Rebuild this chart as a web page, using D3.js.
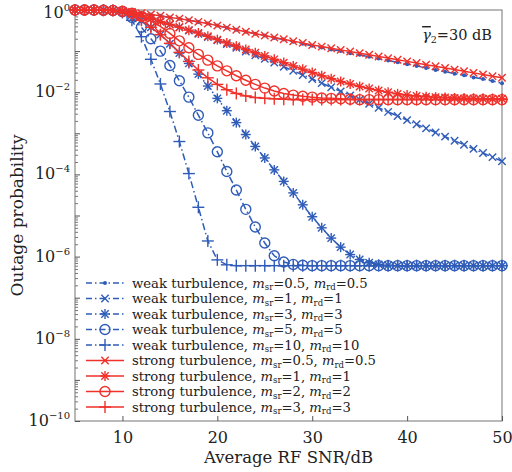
<!DOCTYPE html>
<html>
<head>
<meta charset="utf-8">
<script src="https://cdn.jsdelivr.net/npm/d3@7"></script>
<style>
  body { margin: 0; background: #fff; }
  svg { display: block; font-family: "DejaVu Serif", serif; }
</style>
</head>
<body>
<div id="chart"></div>
<script>
// average RF SNR (dB), one marker per dB
const snr = [5, 6, 7, 8, 9, 10, 11, 12, 13, 14, 15, 16, 17, 18, 19, 20, 21, 22, 23, 24, 25, 26, 27,
  28, 29, 30, 31, 32, 33, 34, 35, 36, 37, 38, 39, 40, 41, 42, 43, 44, 45, 46, 47, 48, 49, 50];

// outage probability, stored as log10(P)
const weakM05 = [0, 0, 0, -0.005, -0.01, -0.02, -0.05, -0.08, -0.11, -0.14, -0.18, -0.21, -0.25, -0.29,
  -0.33, -0.38, -0.43, -0.48, -0.53, -0.58, -0.62, -0.68, -0.72, -0.77, -0.82, -0.87, -0.91, -0.96, -1.0,
  -1.05, -1.09, -1.14, -1.18, -1.23, -1.27, -1.32, -1.36, -1.41, -1.46, -1.5, -1.55, -1.59, -1.64, -1.68,
  -1.73, -1.78];
const weakM1 = [0, 0, 0, -0.005, -0.01, -0.03, -0.08, -0.14, -0.21, -0.28, -0.35, -0.42, -0.5, -0.58,
  -0.66, -0.74, -0.83, -0.92, -1.01, -1.1, -1.19, -1.28, -1.38, -1.48, -1.58, -1.68, -1.78, -1.88, -1.98,
  -2.08, -2.18, -2.28, -2.38, -2.48, -2.58, -2.68, -2.78, -2.88, -2.98, -3.08, -3.18, -3.28, -3.38, -3.48,
  -3.58, -3.68];
const weakM3 = [0, 0, 0, -0.005, -0.01, -0.04, -0.12, -0.25, -0.42, -0.6, -0.82, -1.05, -1.3, -1.56,
  -1.85, -2.15, -2.45, -2.74, -3.03, -3.32, -3.6, -3.89, -4.17, -4.45, -4.74, -5.03, -5.3, -5.55, -5.77,
  -5.95, -6.07, -6.15, -6.19, -6.21, -6.22, -6.22, -6.22, -6.22, -6.22, -6.22, -6.22, -6.22, -6.22, -6.22,
  -6.22, -6.22];
const weakM5 = [0, 0, 0, -0.005, -0.01, -0.04, -0.18, -0.42, -0.7, -1.0, -1.35, -1.72, -2.12, -2.56,
  -2.99, -3.45, -3.93, -4.38, -4.85, -5.28, -5.67, -5.98, -6.13, -6.19, -6.21, -6.22, -6.22, -6.22, -6.22,
  -6.22, -6.22, -6.22, -6.22, -6.22, -6.22, -6.22, -6.22, -6.22, -6.22, -6.22, -6.22, -6.22, -6.22, -6.22,
  -6.22, -6.22];
const weakM10 = [0, 0, 0, -0.005, -0.01, -0.06, -0.25, -0.65, -1.2, -1.8, -2.47, -3.2, -3.98, -4.8,
  -5.62, -6.08, -6.2, -6.22, -6.22, -6.22, -6.22, -6.22, -6.22, -6.22, -6.22, -6.22, -6.22, -6.22, -6.22,
  -6.22, -6.22, -6.22, -6.22, -6.22, -6.22, -6.22, -6.22, -6.22, -6.22, -6.22, -6.22, -6.22, -6.22, -6.22,
  -6.22, -6.22];
const strongM05 = [0, 0, 0, -0.005, -0.01, -0.02, -0.05, -0.08, -0.11, -0.14, -0.18, -0.21, -0.25, -0.29,
  -0.33, -0.38, -0.43, -0.48, -0.53, -0.58, -0.62, -0.67, -0.71, -0.76, -0.8, -0.85, -0.89, -0.93, -0.97,
  -1.01, -1.05, -1.09, -1.13, -1.17, -1.21, -1.25, -1.29, -1.33, -1.37, -1.41, -1.45, -1.49, -1.53, -1.57,
  -1.61, -1.65];
const strongM1 = [0, 0, 0, -0.005, -0.01, -0.03, -0.08, -0.14, -0.21, -0.28, -0.35, -0.42, -0.49, -0.56,
  -0.64, -0.72, -0.8, -0.88, -0.96, -1.04, -1.12, -1.2, -1.28, -1.36, -1.44, -1.52, -1.6, -1.67, -1.74,
  -1.8, -1.86, -1.91, -1.96, -2.0, -2.04, -2.07, -2.09, -2.11, -2.12, -2.13, -2.14, -2.15, -2.15, -2.16,
  -2.16, -2.16];
const strongM2 = [0, 0, 0, -0.005, -0.01, -0.03, -0.08, -0.16, -0.27, -0.4, -0.57, -0.75, -0.92, -1.08,
  -1.22, -1.36, -1.48, -1.6, -1.71, -1.81, -1.9, -1.97, -2.03, -2.07, -2.1, -2.12, -2.14, -2.15, -2.16,
  -2.17, -2.18, -2.18, -2.18, -2.18, -2.18, -2.18, -2.18, -2.18, -2.18, -2.18, -2.18, -2.18, -2.18, -2.18,
  -2.18, -2.18];
const strongM3 = [0, 0, 0, -0.005, -0.01, -0.04, -0.12, -0.25, -0.42, -0.6, -0.81, -1.03, -1.25, -1.46,
  -1.65, -1.81, -1.94, -2.03, -2.09, -2.13, -2.15, -2.16, -2.17, -2.18, -2.18, -2.18, -2.18, -2.18, -2.18,
  -2.18, -2.18, -2.18, -2.18, -2.18, -2.18, -2.18, -2.18, -2.18, -2.18, -2.18, -2.18, -2.18, -2.18, -2.18,
  -2.18, -2.18];

const xTicks = [10, 20, 30, 40, 50];
const yTickExp = [0, -2, -4, -6, -8, -10];

const blue = '#2f5cb8';
const red = '#f0302a';

// order = legend order, later entries drawn on top
const series = [
  { kind: 'weak', msr: '0.5', mrd: '0.5', values: weakM05, marker: 'dot' },
  { kind: 'weak', msr: '1', mrd: '1', values: weakM1, marker: 'x' },
  { kind: 'weak', msr: '3', mrd: '3', values: weakM3, marker: 'star' },
  { kind: 'weak', msr: '5', mrd: '5', values: weakM5, marker: 'circle' },
  { kind: 'weak', msr: '10', mrd: '10', values: weakM10, marker: 'plus' },
  { kind: 'strong', msr: '0.5', mrd: '0.5', values: strongM05, marker: 'x' },
  { kind: 'strong', msr: '1', mrd: '1', values: strongM1, marker: 'star' },
  { kind: 'strong', msr: '2', mrd: '2', values: strongM2, marker: 'circle' },
  { kind: 'strong', msr: '3', mrd: '3', values: strongM3, marker: 'plus' }
];

const W = 512, H = 472;
const plot = { left: 75, right: 502, top: 10, bottom: 421 };

const svg = d3.select('#chart').append('svg')
  .attr('width', W).attr('height', H);

const x = d3.scaleLinear().domain([5, 50]).range([plot.left, plot.right]);
const y = d3.scaleLog().domain([1e-10, 1]).range([plot.bottom, plot.top]);

// frame
svg.append('rect')
  .attr('x', plot.left).attr('y', plot.top)
  .attr('width', plot.right - plot.left).attr('height', plot.bottom - plot.top)
  .attr('fill', 'none').attr('stroke', '#8a8a8a').attr('stroke-width', 1.2);

// x axis (ticks inside)
const xAxis = svg.append('g')
  .attr('transform', `translate(0,${plot.bottom})`)
  .call(d3.axisBottom(x).tickValues(xTicks).tickSize(-5).tickPadding(11).tickFormat(d3.format('d')));
xAxis.select('.domain').remove();
xAxis.selectAll('line').attr('stroke', '#555');
xAxis.selectAll('text').attr('font-family', '"DejaVu Serif", serif').attr('font-size', 16).attr('fill', '#222');

// y axis: decade ticks + minor ticks, labels drawn as 10^k
const minorVals = [];
for (let e = -10; e < 0; e++) for (let m = 2; m <= 9; m++) minorVals.push(m * Math.pow(10, e));
const yMajor = d3.range(-10, 1).map(e => Math.pow(10, e));

const yAxis = svg.append('g').attr('transform', `translate(${plot.left},0)`);
yAxis.call(d3.axisLeft(y).tickValues(yMajor).tickSize(-5).tickFormat(''));
yAxis.select('.domain').remove();
yAxis.selectAll('line').attr('stroke', '#555');
const yMinor = svg.append('g').attr('transform', `translate(${plot.left},0)`);
yMinor.call(d3.axisLeft(y).tickValues(minorVals).tickSize(-3).tickFormat(''));
yMinor.select('.domain').remove();
yMinor.selectAll('line').attr('stroke', '#777');

const yLab = svg.append('g');
yTickExp.forEach(e => {
  const t = yLab.append('text')
    .attr('x', plot.left - 5)
    .attr('y', y(Math.pow(10, e)) + (e === 0 ? 8 : 5))
    .attr('text-anchor', 'end')
    .attr('fill', '#222');
  t.append('tspan').attr('font-size', 16).text('10');
  t.append('tspan').attr('font-size', 10).attr('dy', -7)
    .text(e === 0 ? '0' : '\u2212' + Math.abs(e));
});

// axis titles
svg.append('text')
  .attr('x', (plot.left + plot.right) / 2).attr('y', 463)
  .attr('text-anchor', 'middle').attr('font-size', 16.5).attr('fill', '#222')
  .text('Average RF SNR/dB');
svg.append('text')
  .attr('transform', `translate(23,${(plot.top + plot.bottom) / 2}) rotate(-90)`)
  .attr('text-anchor', 'middle').attr('font-size', 17).attr('fill', '#222')
  .text('Outage probability');

// markers
function drawMarker(g, type, cx, cy, color) {
  const s = 5;
  if (type === 'dot') {
    g.append('circle').attr('cx', cx).attr('cy', cy).attr('r', 2).attr('fill', color);
    return;
  }
  if (type === 'circle') {
    g.append('circle').attr('cx', cx).attr('cy', cy).attr('r', s)
      .attr('fill', 'none').attr('stroke', color).attr('stroke-width', 1.4);
    return;
  }
  const segs = [];
  if (type === 'plus' || type === 'star') {
    const p = type === 'plus' ? s + 1 : s;
    segs.push([cx - p, cy, cx + p, cy], [cx, cy - p, cx, cy + p]);
  }
  if (type === 'x' || type === 'star') {
    const q = s * 0.74;
    segs.push([cx - q, cy - q, cx + q, cy + q], [cx - q, cy + q, cx + q, cy - q]);
  }
  segs.forEach(sg => g.append('line')
    .attr('x1', sg[0]).attr('y1', sg[1]).attr('x2', sg[2]).attr('y2', sg[3])
    .attr('stroke', color).attr('stroke-width', 1.4));
}

const line = d3.line()
  .x(d => x(d[0]))
  .y(d => y(Math.pow(10, d[1])));

const lines = svg.append('g');
series.forEach(s => {
  const color = s.kind === 'weak' ? blue : red;
  const pts = snr.map((v, i) => [v, s.values[i]]);
  const g = lines.append('g');
  g.append('path')
    .attr('d', line(pts))
    .attr('fill', 'none')
    .attr('stroke', color)
    .attr('stroke-width', 1.5)
    .attr('stroke-dasharray', s.kind === 'weak' ? '7,3,1.5,3' : null);
  pts.forEach(p => drawMarker(g, s.marker, x(p[0]), y(Math.pow(10, p[1])), color));
});

// legend
const legend = svg.append('g');
const legY0 = 283, legDy = 15.5;
series.forEach((s, i) => {
  const color = s.kind === 'weak' ? blue : red;
  const ly = legY0 + i * legDy;
  legend.append('line')
    .attr('x1', 86).attr('x2', 124).attr('y1', ly).attr('y2', ly)
    .attr('stroke', color).attr('stroke-width', 1.5)
    .attr('stroke-dasharray', s.kind === 'weak' ? '6,3,1.5,3' : null);
  drawMarker(legend, s.marker, 105, ly, color);
  const t = legend.append('text')
    .attr('x', 132).attr('y', ly + 4.5)
    .attr('font-size', 13.2).attr('fill', '#222');
  t.append('tspan').text(`${s.kind} turbulence, `);
  t.append('tspan').attr('font-style', 'italic').text('m');
  t.append('tspan').attr('font-size', 8.5).attr('dy', 2.5).text('sr');
  t.append('tspan').attr('dy', -2.5).text(`=${s.msr}, `);
  t.append('tspan').attr('font-style', 'italic').text('m');
  t.append('tspan').attr('font-size', 8.5).attr('dy', 2.5).text('rd');
  t.append('tspan').attr('dy', -2.5).text(`=${s.mrd}`);
});

// annotation
const ann = svg.append('text')
  .attr('x', 492).attr('y', 40)
  .attr('text-anchor', 'end').attr('font-size', 14.5).attr('fill', '#222');
ann.append('tspan').attr('font-style', 'italic').attr('text-decoration', 'overline').text('\u03b3');
ann.append('tspan').attr('font-size', 9.5).attr('dy', 3).text('2');
ann.append('tspan').attr('dy', -3).text('=30 dB');
</script>
</body>
</html>
